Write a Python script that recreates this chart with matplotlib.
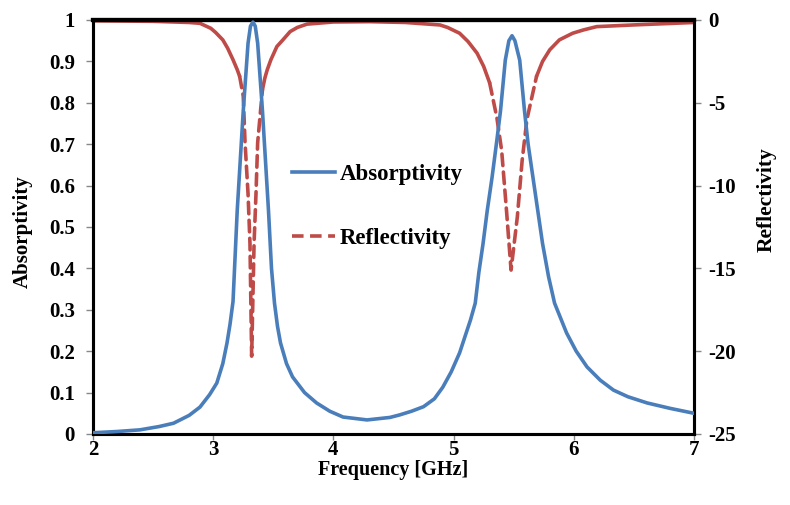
import numpy as np
import matplotlib
matplotlib.use('Agg')
import matplotlib.pyplot as plt
from matplotlib.lines import Line2D
from matplotlib.ticker import FormatStrFormatter, MultipleLocator

# absorptivity
freq_a = [2.00, 2.20, 2.39, 2.55, 2.67, 2.80, 2.89, 2.97, 3.03, 3.08, 3.115, 3.14, 3.165,
          3.20, 3.225, 3.25, 3.29, 3.31, 3.331, 3.35, 3.37, 3.41, 3.435, 3.46, 3.485,
          3.51, 3.535, 3.56, 3.61, 3.66, 3.76, 3.86, 3.97, 4.08, 4.28, 4.47, 4.55, 4.65,
          4.75, 4.84, 4.91, 4.98, 5.05, 5.10, 5.14, 5.18, 5.21, 5.245, 5.28, 5.32, 5.36,
          5.39, 5.43, 5.46, 5.486, 5.51, 5.55, 5.59, 5.62, 5.66, 5.70, 5.74, 5.79, 5.84,
          5.94, 6.02, 6.11, 6.22, 6.33, 6.45, 6.61, 6.80, 7.00]
absorp = [0.003, 0.006, 0.010, 0.018, 0.026, 0.045, 0.065, 0.095, 0.123, 0.17, 0.22, 0.265, 0.32,
          0.54, 0.66, 0.78, 0.944, 0.985, 0.995, 0.985, 0.944, 0.78, 0.66, 0.54, 0.40,
          0.316, 0.26, 0.22, 0.17, 0.138, 0.10, 0.075, 0.055, 0.041, 0.034, 0.040, 0.046, 0.055,
          0.066, 0.085, 0.113, 0.15, 0.196, 0.24, 0.275, 0.316, 0.39, 0.46, 0.54, 0.62, 0.71,
          0.78, 0.903, 0.95, 0.962, 0.95, 0.903, 0.78, 0.70, 0.62, 0.54, 0.46, 0.38, 0.316,
          0.244, 0.20, 0.162, 0.13, 0.106, 0.09, 0.075, 0.062, 0.05]

# reflectivity (dB)
freq_r = [2.00, 2.50, 2.80, 2.89, 2.98, 3.02, 3.08, 3.12, 3.165, 3.20, 3.22, 3.25, 3.265,
          3.29, 3.306, 3.32, 3.34, 3.356, 3.37, 3.41, 3.43, 3.45, 3.48, 3.53, 3.58, 3.64,
          3.70, 3.78, 4.00, 4.30, 4.60, 4.887, 4.95, 5.05, 5.12, 5.195, 5.25, 5.30, 5.36,
          5.40, 5.44, 5.478, 5.53, 5.57, 5.61, 5.69, 5.74, 5.80, 5.88, 5.99, 6.08, 6.19,
          6.49, 7.00]
reflect = [-0.05, -0.08, -0.15, -0.2, -0.5, -0.75, -1.2, -1.7, -2.4, -3.0, -3.4, -4.6, -7.4,
           -10.5, -13.5, -20.3, -13.5, -10.5, -7.4, -4.2, -3.5, -3.0, -2.4, -1.6, -1.2, -0.7,
           -0.45, -0.25, -0.12, -0.1, -0.15, -0.3, -0.45, -0.8, -1.3, -2.0, -2.8, -3.8, -5.9,
           -7.9, -11.5, -15.1, -11.9, -8.5, -6.0, -3.4, -2.5, -1.8, -1.2, -0.8, -0.6, -0.4,
           -0.3, -0.15]

blue = '#4A7EBB'
red = '#BE4B48'
serif = ['Liberation Serif', 'DejaVu Serif']

fig = plt.figure(figsize=(7.9, 5.05), dpi=100)
ax1 = fig.add_axes([0.1177, 0.1406, 0.7608, 0.8198])
ax2 = ax1.twinx()

ax1.plot(freq_a, absorp, color=blue, lw=2.6, zorder=3, solid_joinstyle='round')

# Excel draws the flat parts as near-solid, the steep dips as dashes
r = np.array(reflect)
f = np.array(freq_r)
thr = -4.5
below = r < thr
dash_mask = below | np.roll(below, 1) | np.roll(below, -1)
solid_mask = ~below
ax2.plot(f, np.where(solid_mask, r, np.nan), color=red, lw=2.6, solid_capstyle='round',
         solid_joinstyle='round')
ax2.plot(f, np.where(dash_mask, r, np.nan), color=red, lw=2.6, dashes=(3.2, 1.8),
         dash_capstyle='round')

ax1.set_xlim(2, 7)
ax1.set_ylim(0, 1)
ax2.set_ylim(-25, 0)
ax1.xaxis.set_major_locator(MultipleLocator(1))
ax1.yaxis.set_major_locator(MultipleLocator(0.1))
ax2.yaxis.set_major_locator(MultipleLocator(5))
ax1.yaxis.set_major_formatter(FormatStrFormatter('%g'))
ax2.yaxis.set_major_formatter(FormatStrFormatter('%g'))

for ax in (ax1, ax2):
    for s in ax.spines.values():
        s.set_color('black')
        s.set_linewidth(2.2)
    ax.tick_params(direction='out', length=5, width=1, color='#888888', pad=5,
                   labelsize=15)
    for lab in ax.get_xticklabels() + ax.get_yticklabels():
        lab.set_family(serif)
        lab.set_fontweight('bold')
ax1.tick_params(axis='x', pad=0, length=4)
ax1.tick_params(axis='y', pad=8)
ax1.spines['top'].set_linewidth(3)
ax2.spines['top'].set_linewidth(3)
ax2.set_zorder(ax1.get_zorder() - 1)
ax1.patch.set_visible(False)

ax1.set_xlabel('Frequency [GHz]', family=serif, fontweight='bold', fontsize=14.5)
ax1.set_ylabel('Absorptivity', family=serif, fontweight='bold', fontsize=15)
ax2.set_ylabel('Reflectivity', family=serif, fontweight='bold', fontsize=15.5)
ax1.xaxis.set_label_coords(0.5, -0.062)
ax1.yaxis.set_label_coords(-0.100, 0.488)
ax2.yaxis.set_label_coords(1.105, 0.565)

handles = [Line2D([], [], color=blue, lw=2.6),
           Line2D([], [], color=red, lw=2.6, dashes=(3.2, 1.8))]
leg = ax1.legend(handles, ['Absorptivity', 'Reflectivity'], loc='center left',
                 bbox_to_anchor=(0.331, 0.5495), frameon=False, handlelength=1.88,
                 handletextpad=0.22, labelspacing=1.85, borderpad=0, borderaxespad=0,
                 prop=dict(family=serif, weight='bold', size=16.5))

fig.savefig('out.png', dpi=100)
